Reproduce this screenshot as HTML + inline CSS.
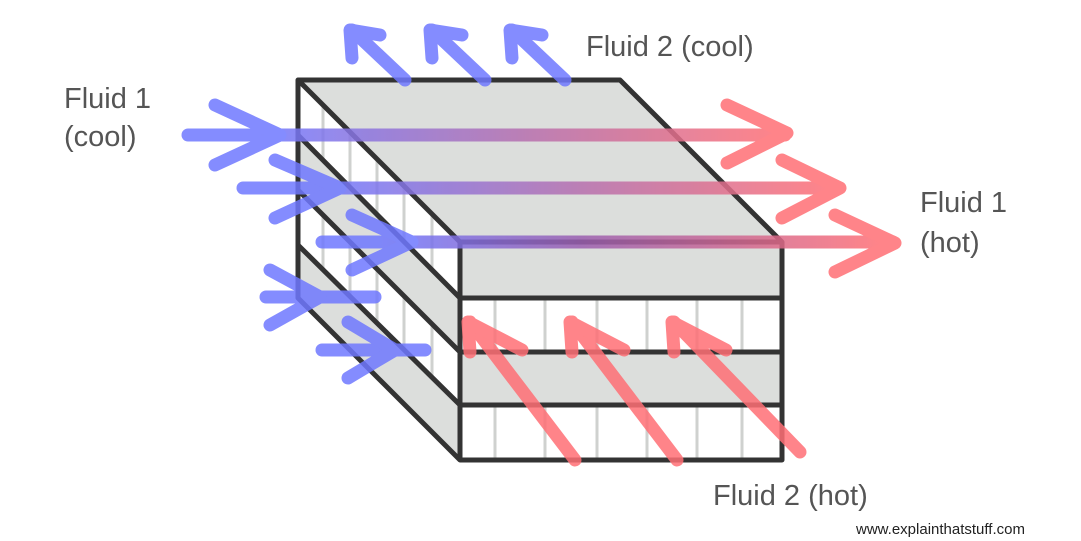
<!DOCTYPE html>
<html><head><meta charset="utf-8"><style>
html,body{margin:0;padding:0;background:#fff;width:1081px;height:541px;overflow:hidden}
svg{display:block}
text{font-family:"Liberation Sans",sans-serif;fill:#555}
</style></head><body>
<svg width="1081" height="541" viewBox="0 0 1081 541" xmlns="http://www.w3.org/2000/svg">
<defs>
<linearGradient id="g1" gradientUnits="userSpaceOnUse" x1="260" y1="0" x2="780" y2="0">
<stop offset="0" stop-color="#6f78ff"/><stop offset="0.5" stop-color="#b56fb0"/><stop offset="1" stop-color="#ff6f75"/></linearGradient>
<linearGradient id="g2" gradientUnits="userSpaceOnUse" x1="320" y1="0" x2="830" y2="0">
<stop offset="0" stop-color="#6f78ff"/><stop offset="0.5" stop-color="#b56fb0"/><stop offset="1" stop-color="#ff6f75"/></linearGradient>
<linearGradient id="g3" gradientUnits="userSpaceOnUse" x1="380" y1="0" x2="880" y2="0">
<stop offset="0" stop-color="#6f78ff"/><stop offset="0.4" stop-color="#9a5fb0"/><stop offset="1" stop-color="#ff6f75"/></linearGradient>
</defs>

<!-- top face -->
<polygon points="298,80 620,80 782,242 460,242" fill="#dcdedc"/>
<!-- side face layers -->
<polygon points="298,80 460,242 460,298 298,135" fill="#fff"/>
<polygon points="298,135 460,298 460,352 298,190" fill="#dcdedc"/>
<polygon points="298,190 460,352 460,405 298,245" fill="#fff"/>
<polygon points="298,245 460,405 460,460 298,298" fill="#dcdedc"/>
<!-- front face layers -->
<rect x="460" y="242" width="322" height="56" fill="#dcdedc"/>
<rect x="460" y="352" width="322" height="53" fill="#dcdedc"/>
<g stroke="#cfd1cf" stroke-width="3">
<line x1="323" y1="105" x2="323" y2="160"/><line x1="350" y1="130" x2="350" y2="190"/><line x1="377" y1="158" x2="377" y2="215"/><line x1="404" y1="185" x2="404" y2="240"/><line x1="432" y1="212" x2="432" y2="270"/>
<line x1="323" y1="215" x2="323" y2="270"/><line x1="350" y1="240" x2="350" y2="298"/><line x1="377" y1="268" x2="377" y2="325"/><line x1="404" y1="295" x2="404" y2="350"/><line x1="432" y1="322" x2="432" y2="378"/>
<line x1="495" y1="298" x2="495" y2="352"/><line x1="545" y1="298" x2="545" y2="352"/><line x1="597" y1="298" x2="597" y2="352"/><line x1="647" y1="298" x2="647" y2="352"/><line x1="697" y1="298" x2="697" y2="352"/><line x1="742" y1="298" x2="742" y2="352"/>
<line x1="495" y1="405" x2="495" y2="460"/><line x1="545" y1="405" x2="545" y2="460"/><line x1="597" y1="405" x2="597" y2="460"/><line x1="647" y1="405" x2="647" y2="460"/><line x1="697" y1="405" x2="697" y2="460"/><line x1="742" y1="405" x2="742" y2="460"/>
</g>
<g stroke="#333" stroke-width="5" fill="none" stroke-linejoin="round">
<polygon points="298,80 620,80 782,242 782,460 460,460 298,298"/>
<line x1="298" y1="80" x2="460" y2="242"/>
<line x1="298" y1="135" x2="460" y2="298"/>
<line x1="298" y1="190" x2="460" y2="352"/>
<line x1="298" y1="245" x2="460" y2="405"/>
<line x1="460" y1="242" x2="782" y2="242"/>
<line x1="460" y1="242" x2="460" y2="460"/>
<line x1="460" y1="298" x2="782" y2="298"/>
<line x1="460" y1="352" x2="782" y2="352"/>
<line x1="460" y1="405" x2="782" y2="405"/>
</g>

<!-- fluid 1 arrows -->
<g stroke-width="13" stroke-linecap="round" stroke-linejoin="round" fill="none" opacity="0.85">
<line x1="188" y1="135" x2="785" y2="135" stroke="url(#g1)"/>
<polyline points="215,105 280,135 215,165" stroke="#6f78ff"/>
<polyline points="727,105 787,133 727,163" stroke="#ff6f75"/>
<line x1="243" y1="188" x2="838" y2="188" stroke="url(#g2)"/>
<polyline points="275,160 340,188 275,218" stroke="#6f78ff"/>
<polyline points="782,160 840,188 782,218" stroke="#ff6f75"/>
<line x1="322" y1="242" x2="893" y2="242" stroke="url(#g3)"/>
<polyline points="352,215 412,242 352,270" stroke="#6f78ff"/>
<polyline points="835,215 895,243 835,272" stroke="#ff6f75"/>
<g stroke="#6f78ff">
<line x1="266" y1="297" x2="375" y2="297"/>
<polyline points="270,270 320,297 270,325"/>
<line x1="322" y1="350" x2="425" y2="350"/>
<polyline points="348,322 395,350 348,378"/>
<!-- fluid 2 cool -->
<line x1="352" y1="30" x2="405" y2="80"/><polyline points="352,58 350,30 380,35"/>
<line x1="432" y1="30" x2="485" y2="80"/><polyline points="432,58 430,30 462,35"/>
<line x1="512" y1="30" x2="565" y2="80"/><polyline points="512,58 510,30 542,35"/>
</g>
<g stroke="#ff6f75">
<line x1="470" y1="322" x2="575" y2="460"/><polyline points="470,352 468,322 522,350"/>
<line x1="572" y1="322" x2="677" y2="460"/><polyline points="572,352 570,322 624,350"/>
<line x1="674" y1="322" x2="800" y2="452"/><polyline points="674,352 672,322 726,350"/>
</g>
</g>

<text x="64" y="108" font-size="29">Fluid 1</text>
<text x="64" y="146" font-size="29">(cool)</text>
<text x="586" y="56" font-size="29">Fluid 2 (cool)</text>
<text x="920" y="212" font-size="29">Fluid 1</text>
<text x="920" y="252" font-size="29">(hot)</text>
<text x="713" y="505" font-size="29">Fluid 2 (hot)</text>
<text x="856" y="534" font-size="15" style="fill:#222">www.explainthatstuff.com</text>
</svg>
</body></html>
